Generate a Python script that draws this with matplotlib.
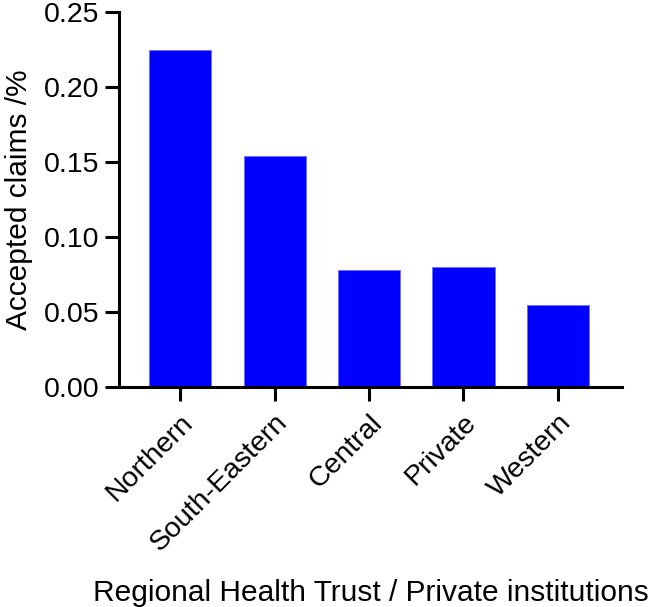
import matplotlib.pyplot as plt

regions = ['Northern', 'South-Eastern', 'Central', 'Private', 'Western']
accepted = [0.225, 0.154, 0.078, 0.080, 0.055]
yticks = [0.00, 0.05, 0.10, 0.15, 0.20, 0.25]

plt.rcParams['font.family'] = ['Liberation Sans', 'DejaVu Sans']

fig = plt.figure(figsize=(6.5, 6.07), dpi=100)
ax = fig.add_axes([0.183, 0.362, 0.774, 0.618])

x = range(len(regions))
ax.bar(x, accepted, width=0.66, color='#0000FF', edgecolor='#6f6fff', linewidth=0.6)

ax.set_xlim(-0.65, 4.68)
ax.set_ylim(0, 0.25)
ax.set_yticks(yticks)
ax.set_yticklabels([f'{v:.2f}' for v in yticks])
ax.set_xticks(list(x))
ax.set_xticklabels(regions, rotation=45, ha='right', va='top', rotation_mode='anchor')

for side in ['top', 'right']:
    ax.spines[side].set_visible(False)
for side in ['left', 'bottom']:
    ax.spines[side].set_linewidth(2.2)
ax.tick_params(axis='both', width=2.2, length=10, labelsize=20.5, pad=4)
ax.tick_params(axis='x', pad=6)

ax.set_ylabel('Accepted claims /%', fontsize=21.5, labelpad=8)
ax.set_xlabel('Regional Health Trust / Private institutions', fontsize=21.5, labelpad=16)

fig.savefig('out.png', dpi=100)
